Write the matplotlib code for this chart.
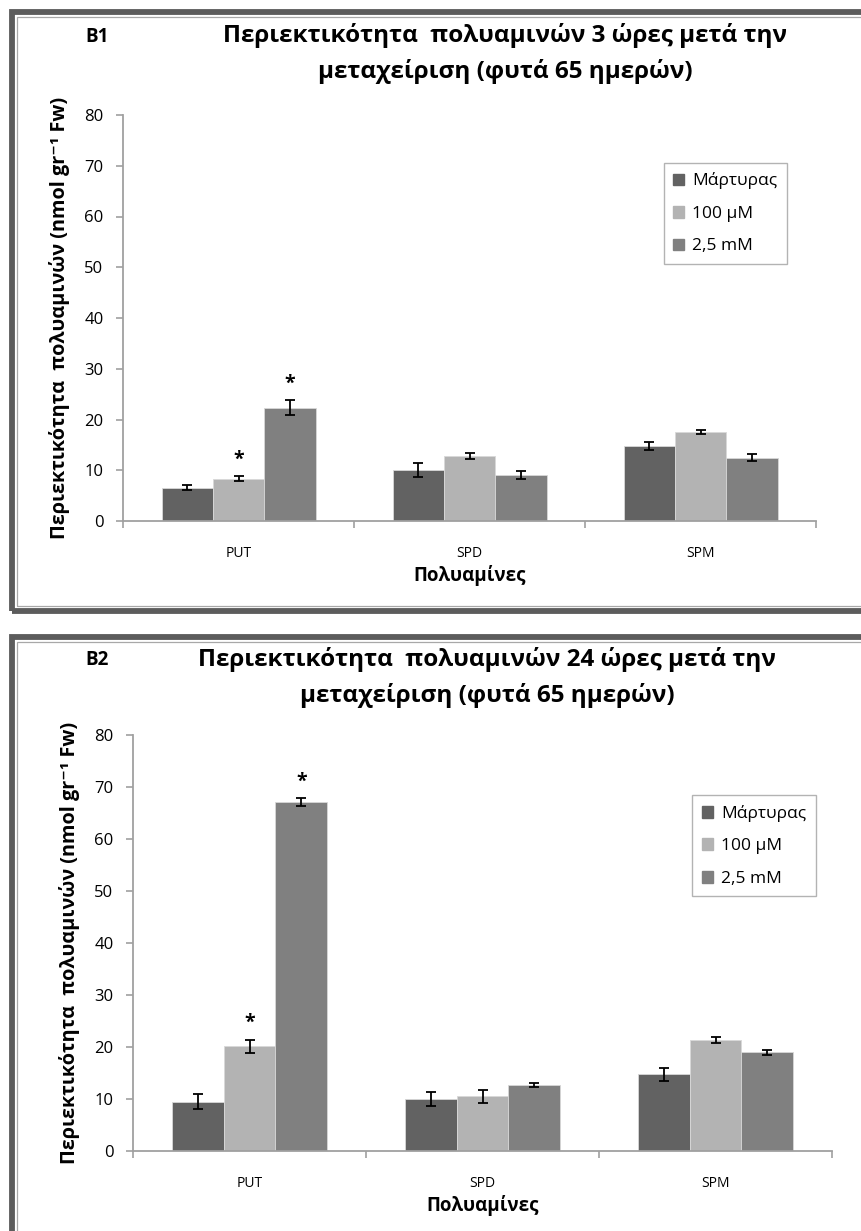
import matplotlib
matplotlib.use("Agg")
import matplotlib.pyplot as plt
import matplotlib.patches as patches
import numpy as np

plt.rcParams['font.family'] = ['Open Sans', 'DejaVu Sans']

# data
categories = ['PUT', 'SPD', 'SPM']
series_labels = ['Μάρτυρας', '100 μM', '2,5 mM']
series_colors = ['#626262', '#b3b3b3', '#808080']

b1_control = [6.6, 10.0, 14.7]
b1_100um = [8.3, 12.8, 17.5]
b1_25mm = [22.3, 9.1, 12.5]
b1_control_err = [0.5, 1.35, 0.8]
b1_100um_err = [0.5, 0.6, 0.35]
b1_25mm_err = [1.45, 0.75, 0.75]
b1_stars = [(0, 1), (0, 2)]  # (category, series)

b2_control = [9.5, 10.0, 14.8]
b2_100um = [20.1, 10.5, 21.4]
b2_25mm = [67.1, 12.7, 19.0]
b2_control_err = [1.4, 1.35, 1.25]
b2_100um_err = [1.25, 1.2, 0.6]
b2_25mm_err = [0.7, 0.4, 0.5]
b2_stars = [(0, 1), (0, 2)]

y_ticks = [0, 10, 20, 30, 40, 50, 60, 70, 80]
ylabel = 'Περιεκτικότητα  πολυαμινών (nmol gr⁻¹ Fw)'
xlabel = 'Πολυαμίνες'

W, H = 861, 1231
fig = plt.figure(figsize=(W / 100, H / 100), dpi=100)


def px(x0, y0, x1, y1):
    # pixel box (top-left origin) -> figure rect
    return [x0 / W, 1 - y1 / H, (x1 - x0) / W, (y1 - y0) / H]


def frame(top, bottom):
    # thick dark border plus thin inner line, cut off at the right edge
    outer = patches.Rectangle((11.5 / W, 1 - bottom / H), 1.0, (bottom - top) / H,
                              transform=fig.transFigure, fill=False,
                              edgecolor='#5c5c5c', linewidth=4.2, clip_on=False)
    inner = patches.Rectangle((16.5 / W, 1 - (bottom - 5) / H), 1.0, (bottom - top - 10) / H,
                              transform=fig.transFigure, fill=False,
                              edgecolor='#a8a8a8', linewidth=0.9, clip_on=False)
    fig.add_artist(outer)
    fig.add_artist(inner)


def panel(rect, values, errors, stars, tag, title_lines, tag_xy, title_x, title_ys, legend_box):
    ax = fig.add_axes(rect)
    x = np.arange(len(categories))
    w = 1 / 4.5
    for i, (vals, errs) in enumerate(zip(values, errors)):
        ax.bar(x + (i - 1) * w, vals, width=w, color=series_colors[i],
               edgecolor='#d8d8d8', linewidth=0.6, label=series_labels[i], zorder=2)
        ax.errorbar(x + (i - 1) * w, vals, yerr=errs, fmt='none', ecolor='black',
                    elinewidth=1.3, capsize=3.5, capthick=1.3, zorder=3)
    for c, s in stars:
        top = values[s][c] + errors[s][c]
        ax.annotate('*', (x[c] + (s - 1) * w, top), xytext=(0, 5),
                    textcoords='offset points', ha='center', va='bottom',
                    fontsize=14, fontweight='bold')

    ax.set_xlim(-0.5, 2.5)
    ax.set_ylim(0, 80)
    ax.set_yticks(y_ticks)
    ax.set_xticks(x)
    ax.set_xticklabels(categories, fontsize=10)
    ax.set_xticks([-0.5, 0.5, 1.5, 2.5], minor=True)
    ax.tick_params(axis='x', which='major', length=0, pad=18)
    ax.tick_params(axis='x', which='minor', length=5, color='#a0a0a0', width=1.2)
    ax.tick_params(axis='y', length=5, color='#a0a0a0', width=1.2, labelsize=12, pad=9)
    for sp in ['top', 'right']:
        ax.spines[sp].set_visible(False)
    for sp in ['left', 'bottom']:
        ax.spines[sp].set_color('#a0a0a0')
        ax.spines[sp].set_linewidth(1.3)

    ax.set_xlabel(xlabel, fontsize=13.5, fontweight='bold', labelpad=3)
    ax.set_ylabel(ylabel, fontsize=14.3, fontweight='bold', labelpad=10)

    handles = [patches.Patch(color=c) for c in series_colors]
    leg = ax.legend(handles, series_labels, loc='upper left', bbox_to_anchor=legend_box,
                    fontsize=12.5, frameon=True, fancybox=False, edgecolor='#a0a0a0',
                    handlelength=0.65, handleheight=0.65, handletextpad=0.45,
                    labelspacing=0.95, borderpad=0.55, borderaxespad=0)
    leg.get_frame().set_linewidth(1.0)

    fig.text(tag_xy[0] / W, 1 - tag_xy[1] / H, tag, fontsize=13.5, fontweight='bold',
             ha='center', va='center')
    for line, ty in zip(title_lines, title_ys):
        fig.text(title_x / W, 1 - ty / H, line, fontsize=17.5, fontweight='bold',
                 ha='center', va='center')
    return ax


frame(12, 611)
frame(637, 1300)

panel(px(123, 115, 816, 521),
      [b1_control, b1_100um, b1_25mm],
      [b1_control_err, b1_100um_err, b1_25mm_err],
      b1_stars, 'B1',
      ['Περιεκτικότητα  πολυαμινών 3 ώρες μετά την', 'μεταχείριση (φυτά 65 ημερών)'],
      (97, 37), 505, (36, 71), (0.78, 0.882))

panel(px(133, 735, 832, 1151),
      [b2_control, b2_100um, b2_25mm],
      [b2_control_err, b2_100um_err, b2_25mm_err],
      b2_stars, 'B2',
      ['Περιεκτικότητα  πολυαμινών 24 ώρες μετά την', 'μεταχείριση (φυτά 65 ημερών)'],
      (97, 660), 487, (660, 695), (0.8, 0.855))

fig.savefig('out.png', dpi=100)
